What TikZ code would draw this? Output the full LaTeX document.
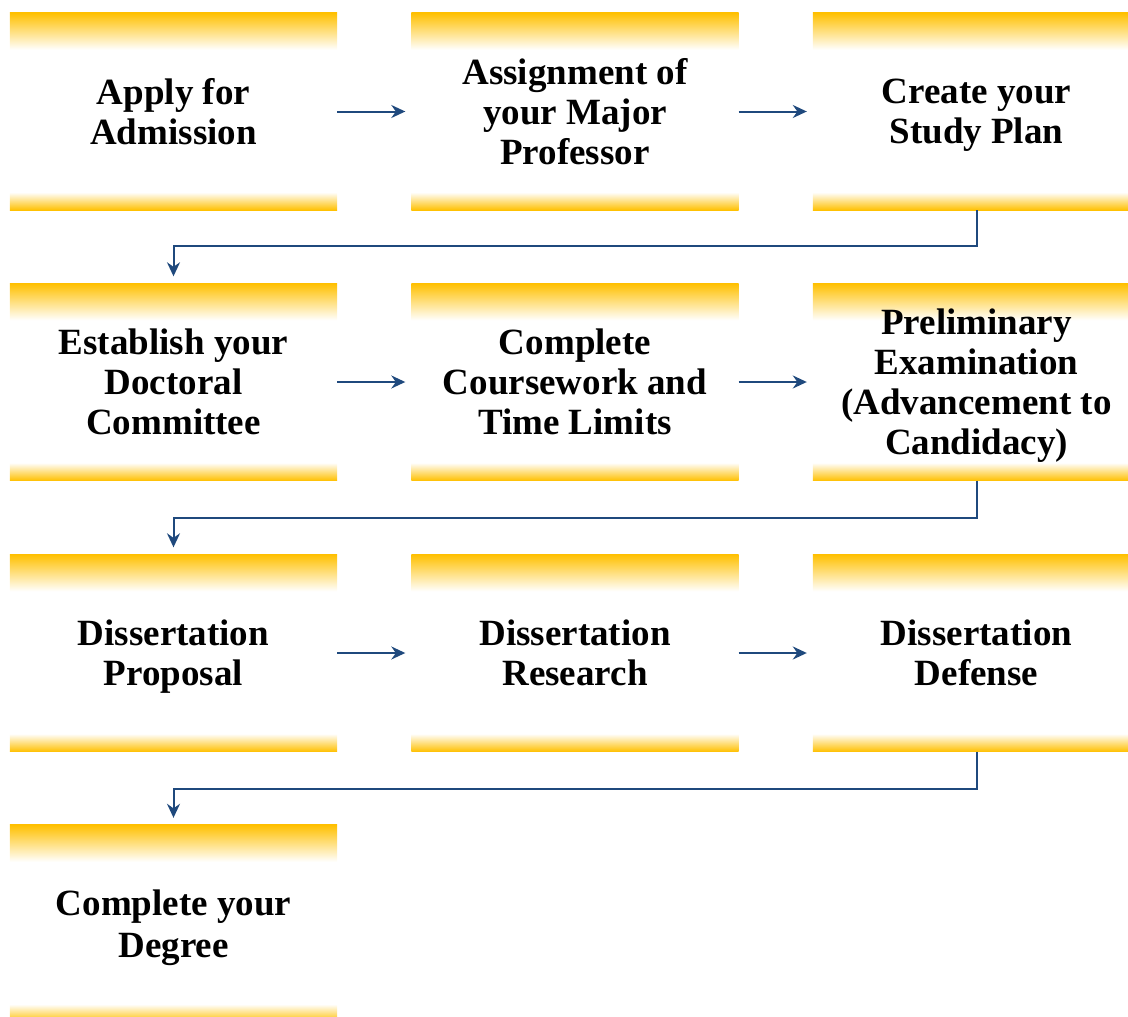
\documentclass[tikz,border=0pt]{standalone}
\usepackage{fontspec}
\setmainfont{Liberation Serif}
\usepackage{tikz}
\usetikzlibrary{calc}
\usetikzlibrary{arrows.meta}
\usetikzlibrary{positioning}
\usetikzlibrary{backgrounds}

\definecolor{stagegold}{RGB}{255,192,0}
\definecolor{flowblue}{RGB}{31,73,125}

\begin{document}
\begin{tikzpicture}[x=1pt, y=-1pt,
    stage/.style={minimum width=327pt, minimum height=197pt, inner sep=0pt,
      align=center, text depth=0pt, font=\fontsize{37}{40}\selectfont\bfseries},
    flow/.style={draw=flowblue, line width=2pt, -{Stealth[length=14pt, width=13pt]}}]
  \useasboundingbox (0, 0) rectangle (1128, 1017);

  \node[stage] (admit) at (173.5, 111.5) {Apply for\\Admission};
  \node[stage] (major) at (575, 111.5) {Assignment of\\your Major\\Professor};
  \node[stage] (plan) at (976.5, 111.5) {Create your\\Study Plan};

  \node[stage] (committee) at (173.5, 382) {Establish your\\Doctoral\\Committee};
  \node[stage] (course) at (575, 382) {Complete\\Coursework and\\Time Limits};
  \node[stage] (prelim) at (976.5, 382) {Preliminary\\Examination\\(Advancement to\\Candidacy)};

  \node[stage] (proposal) at (173.5, 653) {Dissertation\\Proposal};
  \node[stage] (research) at (575, 653) {Dissertation\\Research};
  \node[stage] (defense) at (976.5, 653) {Dissertation\\Defense};

  \node[stage] (degree) at (173.5, 923.5) {Complete your\\[2pt]Degree};

  \begin{scope}[on background layer]
    \foreach \n in {admit, major, plan, committee, course, prelim, proposal, research, defense, degree} {
      \shade[top color=stagegold, bottom color=white]
        (\n.north west) rectangle ([yshift=-37pt]\n.north east);
      \shade[top color=white, bottom color=stagegold]
        ([yshift=18pt]\n.south west) rectangle (\n.south east);
    }
  \end{scope}

  \draw[flow] (admit) -- ([xshift=-6pt]major.west);
  \draw[flow] (major) -- ([xshift=-6pt]plan.west);
  \draw[flow] (committee) -- ([xshift=-6pt]course.west);
  \draw[flow] (course) -- ([xshift=-6pt]prelim.west);
  \draw[flow] (proposal) -- ([xshift=-6pt]research.west);
  \draw[flow] (research) -- ([xshift=-6pt]defense.west);

  \draw[flow] (plan.south) -- ++(0, 36) -| ([yshift=7pt]committee.north);
  \draw[flow] (prelim.south) -- ++(0, 37) -| ([yshift=7pt]proposal.north);
  \draw[flow] (defense.south) -- ++(0, 37) -| ([yshift=7pt]degree.north);
\end{tikzpicture}
\end{document}
